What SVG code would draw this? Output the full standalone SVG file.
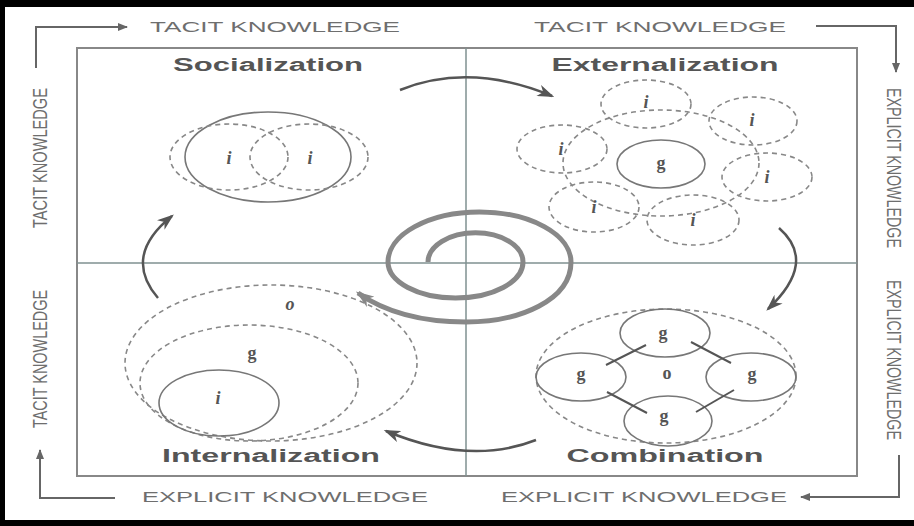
<svg xmlns="http://www.w3.org/2000/svg" width="914" height="526" viewBox="0 0 914 526">
<defs>
<style>
.axis{font-family:"Liberation Sans",Arial,sans-serif;fill:#6e6e6e;font-size:15px}
.vaxis{font-family:"Liberation Sans",Arial,sans-serif;fill:#6e6e6e;font-size:20px}
.head{font-family:"Liberation Sans",Arial,sans-serif;font-weight:bold;fill:#555;font-size:18px}
.lab{font-family:"Liberation Serif","Times New Roman",serif;font-weight:bold;fill:#555;font-size:18px;text-anchor:middle}
.it{font-style:italic}
.solid{fill:none;stroke:#777;stroke-width:1.6}
.dash{fill:none;stroke:#888;stroke-width:1.6;stroke-dasharray:5 4}
.bracket{fill:none;stroke:#666;stroke-width:2}
.flow{fill:none;stroke:#555;stroke-width:2.5}
.divider{stroke:#7f9090;stroke-width:1.5}
</style>
<marker id="ah" viewBox="0 0 14 10" refX="12" refY="5" markerWidth="17" markerHeight="12" markerUnits="userSpaceOnUse" orient="auto">
<path d="M0,0 L14,5 L0,10 L4,5 z" fill="#555"/>
</marker>
<marker id="ahs" viewBox="0 0 10 8" refX="9" refY="4" markerWidth="10" markerHeight="8" markerUnits="userSpaceOnUse" orient="auto">
<path d="M0,0 L10,4 L0,8 z" fill="#666"/>
</marker>
<marker id="ahg" viewBox="0 0 14 10" refX="12" refY="5" markerWidth="18" markerHeight="13" markerUnits="userSpaceOnUse" orient="auto">
<path d="M0,0 L14,5 L0,10 L4,5 z" fill="#888"/>
</marker>
</defs>
<rect x="0" y="0" width="914" height="526" fill="#fff"/>
<path d="M0,0 H914 V7 H5 V520 H914 V526 H0 z" fill="#000"/>

<g id="frame">
<rect x="77" y="48" width="780" height="428" fill="none" stroke="#888" stroke-width="2"/>
<line class="divider" x1="77" y1="263" x2="857" y2="263"/>
<line class="divider" x1="466" y1="48" x2="466" y2="476"/>
</g>

<g id="axis-labels">
<text class="axis" x="275" y="32" text-anchor="middle" textLength="250" lengthAdjust="spacingAndGlyphs">TACIT KNOWLEDGE</text>
<text class="axis" x="660" y="32" text-anchor="middle" textLength="252" lengthAdjust="spacingAndGlyphs">TACIT KNOWLEDGE</text>
<text class="axis" x="285" y="502" text-anchor="middle" textLength="286" lengthAdjust="spacingAndGlyphs">EXPLICIT KNOWLEDGE</text>
<text class="axis" x="644" y="502" text-anchor="middle" textLength="286" lengthAdjust="spacingAndGlyphs">EXPLICIT KNOWLEDGE</text>
<text class="vaxis" transform="translate(47,158) rotate(-90)" text-anchor="middle" textLength="140" lengthAdjust="spacingAndGlyphs">TACIT KNOWLEDGE</text>
<text class="vaxis" transform="translate(47,359) rotate(-90)" text-anchor="middle" textLength="138" lengthAdjust="spacingAndGlyphs">TACIT KNOWLEDGE</text>
<text class="vaxis" transform="translate(887,168) rotate(90)" text-anchor="middle" textLength="160" lengthAdjust="spacingAndGlyphs">EXPLICIT KNOWLEDGE</text>
<text class="vaxis" transform="translate(887,360) rotate(90)" text-anchor="middle" textLength="160" lengthAdjust="spacingAndGlyphs">EXPLICIT KNOWLEDGE</text>
</g>

<g id="socialization">
<text class="head" x="268" y="71" text-anchor="middle" textLength="190" lengthAdjust="spacingAndGlyphs">Socialization</text>
<ellipse class="solid" cx="268" cy="157" rx="83" ry="45"/>
<ellipse class="dash" cx="229" cy="157" rx="59" ry="33"/>
<ellipse class="dash" cx="309" cy="157" rx="59" ry="33"/>
<text class="lab it" x="229" y="164">i</text>
<text class="lab it" x="310" y="164">i</text>
</g>

<g id="externalization">
<text class="head" x="665" y="71" text-anchor="middle" textLength="227" lengthAdjust="spacingAndGlyphs">Externalization</text>
<ellipse class="dash" cx="661" cy="163" rx="98" ry="53"/>
<ellipse class="dash" cx="646" cy="104" rx="45" ry="24"/>
<ellipse class="dash" cx="753" cy="121" rx="44" ry="24"/>
<ellipse class="dash" cx="562" cy="149" rx="45" ry="24"/>
<ellipse class="dash" cx="767" cy="177" rx="45" ry="24"/>
<ellipse class="dash" cx="594" cy="207" rx="45" ry="25"/>
<ellipse class="dash" cx="693" cy="220" rx="46" ry="25"/>
<ellipse class="solid" cx="661" cy="164" rx="44" ry="24"/>
<text class="lab" x="661" y="169">g</text>
<text class="lab it" x="646" y="108">i</text>
<text class="lab it" x="752" y="126">i</text>
<text class="lab it" x="561" y="155">i</text>
<text class="lab it" x="767" y="183">i</text>
<text class="lab it" x="594" y="213">i</text>
<text class="lab it" x="693" y="226">i</text>
</g>

<g id="combination">
<text class="head" x="665" y="462" text-anchor="middle" textLength="197" lengthAdjust="spacingAndGlyphs">Combination</text>
<ellipse class="dash" cx="666" cy="376" rx="130" ry="67"/>
<ellipse class="solid" cx="665" cy="333" rx="45" ry="24"/>
<ellipse class="solid" cx="581" cy="377" rx="45" ry="24"/>
<ellipse class="solid" cx="751" cy="377" rx="45" ry="24"/>
<ellipse class="solid" cx="668" cy="421" rx="44" ry="25"/>
<g stroke="#555" stroke-width="2">
<line x1="606" y1="365" x2="646" y2="345"/>
<line x1="691" y1="342" x2="731" y2="363"/>
<line x1="607" y1="392" x2="647" y2="413"/>
<line x1="734" y1="390" x2="696" y2="412"/>
</g>
<text class="lab" x="663" y="339">g</text>
<text class="lab" x="581" y="380">g</text>
<text class="lab" x="752" y="380">g</text>
<text class="lab" x="664" y="422">g</text>
<text class="lab" x="667" y="379">o</text>
</g>

<g id="internalization">
<text class="head" x="271" y="462" text-anchor="middle" textLength="218" lengthAdjust="spacingAndGlyphs">Internalization</text>
<ellipse class="dash" cx="271" cy="363" rx="146" ry="78"/>
<ellipse class="dash" cx="249" cy="383" rx="109" ry="58"/>
<ellipse class="solid" cx="219" cy="403" rx="60" ry="33"/>
<text class="lab it" x="290" y="310">o</text>
<text class="lab" x="252" y="359">g</text>
<text class="lab it" x="218" y="404">i</text>
</g>

<g id="connectors">
<path class="bracket" d="M36,68 V27 H127" marker-end="url(#ahs)"/>
<path class="bracket" d="M816,26 H896 V72" marker-end="url(#ahs)"/>
<path class="bracket" d="M899,455 V497 H801" marker-end="url(#ahs)"/>
<path class="bracket" d="M115,498 H40 V450" marker-end="url(#ahs)"/>
<path class="flow" d="M400,90 Q470,62 552,96" marker-end="url(#ah)"/>
<path class="flow" d="M779,228 Q818,262 768,309" marker-end="url(#ah)"/>
<path class="flow" d="M536,440 Q470,466 386,431" marker-end="url(#ah)"/>
<path class="flow" d="M158,298 Q122,256 172,216" marker-end="url(#ah)"/>
<path d="M428,262 A47,29 0 0 1 523,262 A67.5,36 0 0 1 388,262 A91.5,50 0 0 1 571,262 C571,300 520,322 466,322 C420,322 385,312 358,293" fill="none" stroke="#888" stroke-width="5" marker-end="url(#ahg)"/>
</g>
</svg>
